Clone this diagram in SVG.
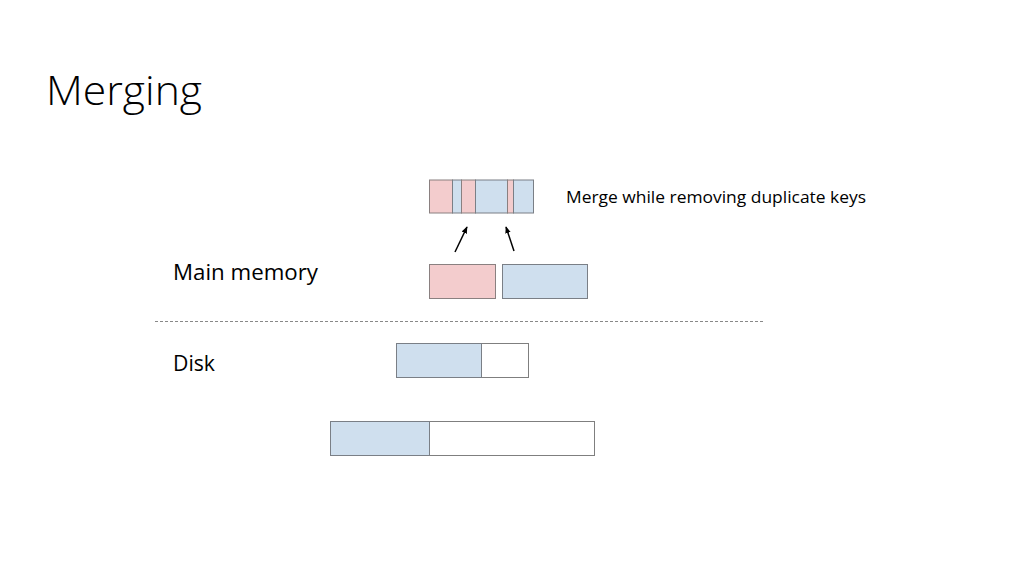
<svg xmlns="http://www.w3.org/2000/svg" width="1024" height="576" viewBox="0 0 1024 576">
<defs>
<style>
text{font-family:"Open Sans","Liberation Sans",sans-serif;fill:#000}
.title{font-weight:300}
.p{fill:#f3cccd;stroke:#8a8080;stroke-width:1}
.b{fill:#cfdfee;stroke:#7a7f86;stroke-width:1}
.w{fill:#fff;stroke:#7f7f7f;stroke-width:1}
.ar{stroke:#000;stroke-width:1.5;fill:none;marker-end:url(#ah)}
</style>
<marker id="ah" viewBox="0 0 10 10" refX="9" refY="5" markerWidth="7" markerHeight="7" orient="auto" markerUnits="userSpaceOnUse">
<path d="M0,1 L10,5 L0,9 z" fill="#000"/>
</marker>
</defs>
<rect width="1024" height="576" fill="#fff"/>
<text class="title" x="46" y="105" font-size="40" textLength="156" lengthAdjust="spacingAndGlyphs">Merging</text>
<g id="merged">
<rect class="p" x="429.5" y="180" width="23" height="33"/>
<rect class="b" x="452.5" y="180" width="9" height="33"/>
<rect class="p" x="461.5" y="180" width="14" height="33"/>
<rect class="b" x="475.5" y="180" width="32" height="33"/>
<rect class="p" x="507.5" y="180" width="6" height="33"/>
<rect class="b" x="513.5" y="180" width="20" height="33"/>
</g>
<g id="label-merge"><text x="566" y="203" font-size="16" textLength="300" lengthAdjust="spacingAndGlyphs">Merge while removing duplicate keys</text></g>
<g id="mem-pink"><rect class="p" x="429.5" y="264.5" width="66" height="34"/></g>
<g id="mem-blue"><rect class="b" x="502.5" y="264.5" width="85" height="34"/></g>
<g id="label-main"><text x="173" y="280" font-size="21" textLength="145" lengthAdjust="spacingAndGlyphs">Main memory</text></g>
<g id="label-disk"><text x="173" y="371" font-size="21" textLength="42" lengthAdjust="spacingAndGlyphs">Disk</text></g>
<g id="disk1">
<rect class="w" x="396.5" y="343.5" width="132" height="34"/>
<rect class="b" x="396.5" y="343.5" width="85" height="34"/>
</g>
<g id="disk2">
<rect class="w" x="330.5" y="421.5" width="264" height="34"/>
<rect class="b" x="330.5" y="421.5" width="99" height="34"/>
</g>
<g id="connectors">
<line x1="155" y1="321.5" x2="765" y2="321.5" stroke="#888" stroke-width="1" stroke-dasharray="3,2"/>
<line class="ar" x1="455" y1="252" x2="467" y2="227"/>
<line class="ar" x1="514" y1="251" x2="506" y2="227"/>
</g>
</svg>
